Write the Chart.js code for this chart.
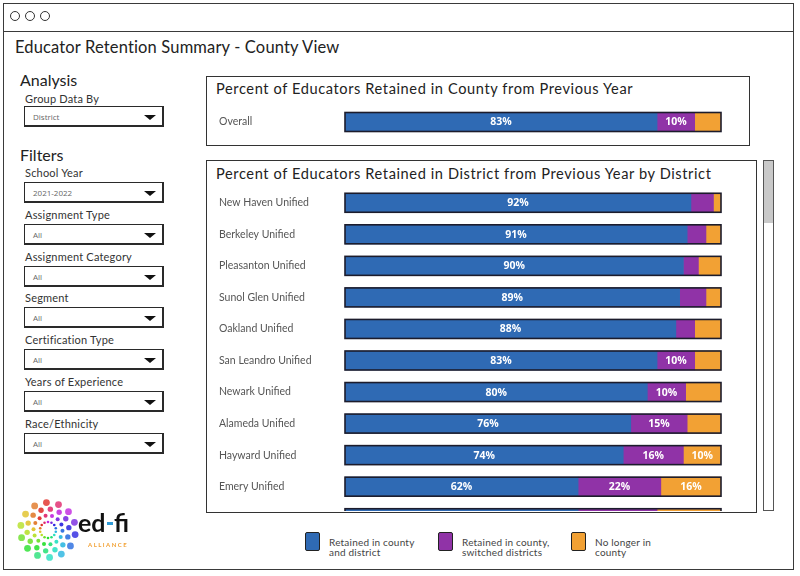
<!DOCTYPE html>
<html>
<head>
<meta charset="utf-8">
<script src="https://cdn.jsdelivr.net/npm/chart.js@4"></script>
<style>
body { margin: 0; width: 800px; height: 576px; overflow: hidden; background: #fff; position: relative; font-family: Lato, "Open Sans", sans-serif; color: #222; }
.abs { position: absolute; }
.frame { left: 3px; top: 3px; width: 789px; height: 565px; border: 1.5px solid #3a3a3a; }
.titlebar { left: 3px; top: 31px; width: 791px; height: 0; border-top: 1.5px solid #3a3a3a; }
.dot { width: 8px; height: 8px; border: 1.5px solid #333; border-radius: 50%; top: 11px; }
.txt { white-space: nowrap; }
.box { width: 137px; height: 18px; border: 1.5px solid #2a2a2a; border-right-width: 2px; border-bottom-width: 2px; }
.box span { position: absolute; left: 8px; top: 4px; font-size: 8px; color: #666; font-family: "Open Sans", sans-serif; }
.box i { position: absolute; right: 6px; top: 8px; width: 0; height: 0; border-left: 6px solid transparent; border-right: 6px solid transparent; border-top: 5px solid #111; }
.panel { border: 1.5px solid #333; }
.ptitle { font-size: 14.6px; color: #222; letter-spacing: 0.6px; }
.sw { width: 13px; height: 17px; border: 1.5px solid #222; border-radius: 2px; }
.leg { font-size: 10px; line-height: 10px; color: #444; letter-spacing: 0.2px; }
</style>
</head>
<body>
<div class="abs frame"></div>
<div class="abs titlebar"></div>
<div class="abs dot" style="left:10px"></div>
<div class="abs dot" style="left:25px"></div>
<div class="abs dot" style="left:40px"></div>

<div class="abs txt" style="left:15px;top:37px;font-size:16.5px;color:#222;letter-spacing:0.15px">Educator Retention Summary - County View</div>

<div class="abs txt" style="left:20px;top:70px;font-size:16px;color:#222">Analysis</div>
<div class="abs txt" style="left:25px;top:92px;font-size:11px;color:#333;letter-spacing:0.2px">Group Data By</div>
<div class="abs box" style="left:24px;top:106px"><span>District</span><i></i></div>

<div class="abs txt" style="left:20px;top:145px;font-size:16px;color:#222">Filters</div>
<div id="filters"></div>

<!-- county panel -->
<div class="abs panel" style="left:206px;top:76px;width:542px;height:68px"></div>
<div class="abs txt ptitle" style="left:216px;top:80px">Percent of Educators Retained in County from Previous Year</div>
<canvas id="countyChart" class="abs" style="left:219px;top:107px" width="504" height="30"></canvas>

<!-- district panel -->
<div class="abs panel" style="left:206px;top:160px;width:549px;height:351px"></div>
<div class="abs txt ptitle" style="left:216px;top:165px">Percent of Educators Retained in District from Previous Year by District</div>
<div class="abs" style="left:208px;top:185px;width:547px;height:326px;overflow:hidden">
  <canvas id="districtChart" class="abs" style="left:11px;top:2px" width="504" height="347"></canvas>
</div>
<div class="abs" style="left:763px;top:160px;width:9px;height:349px;border:1px solid #555">
  <div class="abs" style="left:0;top:0;width:9px;height:62px;background:#c9c9c9"></div>
</div>

<!-- legend -->
<div id="legend"></div>

<canvas id="logo" class="abs" style="left:15px;top:498px" width="130" height="68"></canvas>

<script>
const filterNames = ['School Year', 'Assignment Type', 'Assignment Category', 'Segment', 'Certification Type', 'Years of Experience', 'Race/Ethnicity'];
const filterValues = ['2021-2022', 'All', 'All', 'All', 'All', 'All', 'All'];

const countyLabels = ['Overall'];
const countyRetained = [83];
const countySwitched = [10];
const countyLeft = [7];

const districts = ['New Haven Unified', 'Berkeley Unified', 'Pleasanton Unified', 'Sunol Glen Unified', 'Oakland Unified',
    'San Leandro Unified', 'Newark Unified', 'Alameda Unified', 'Hayward Unified', 'Emery Unified', ''];
const retained = [92, 91, 90, 89, 88, 83, 80.4, 76, 74, 62, 62];
const switched = [6, 5, 4, 7, 5, 10, 10.2, 15, 16, 22, 21];
const noLonger = [2, 4, 6, 4, 7, 7, 9.4, 9, 10, 16, 17];

const legendNames = [['Retained in county', 'and district'], ['Retained in county,', 'switched districts'], ['No longer in', 'county']];
const colors = ['#2f6ab4', '#9033a7', '#f2a134'];

// filter dropdowns
var fhtml = '';
filterNames.forEach(function (name, i) {
    var y = 173 + i * 41.8;
    fhtml += '<div class="abs txt" style="left:25px;top:' + (y - 7) + 'px;font-size:11px;color:#333;letter-spacing:0.2px">' + name + '</div>';
    fhtml += '<div class="abs box" style="left:24px;top:' + (y + 9) + 'px"><span>' + filterValues[i] + '</span><i></i></div>';
});
document.getElementById('filters').innerHTML = fhtml;

// legend
var lhtml = '';
var legX = [305, 438, 571];
legendNames.forEach(function (lines, i) {
    lhtml += '<div class="abs sw" style="left:' + legX[i] + 'px;top:532px;background:' + colors[i] + '"></div>';
    lhtml += '<div class="abs txt leg" style="left:' + (legX[i] + 24) + 'px;top:537px">' + lines[0] + '<br>' + lines[1] + '</div>';
});
document.getElementById('legend').innerHTML = lhtml;

// labels inside segments + outline around each stacked bar
const barDecor = {
    id: 'barDecor',
    afterDatasetsDraw(chart) {
        const ctx = chart.ctx;
        const metas = chart.data.datasets.map((d, i) => chart.getDatasetMeta(i));
        ctx.save();
        ctx.font = 'bold 10.5px "Open Sans", sans-serif';
        ctx.fillStyle = '#fff';
        ctx.textAlign = 'center';
        ctx.textBaseline = 'middle';
        metas.forEach(function (meta, di) {
            meta.data.forEach(function (el, i) {
                var v = chart.data.datasets[di].data[i];
                if (v >= 9.5) ctx.fillText(Math.round(v) + '%', (el.x + el.base) / 2, el.y + 0.5);
            });
        });
        ctx.strokeStyle = '#1c1c2c';
        ctx.lineWidth = 1.6;
        metas[0].data.forEach(function (el, i) {
            var left = el.base;
            var right = metas[metas.length - 1].data[i].x;
            ctx.strokeRect(left, el.y - el.height / 2, right - left, el.height);
        });
        ctx.restore();
    }
};

function stackedBar(id, labels, a, b, c) {
    return new Chart(document.getElementById(id), {
        type: 'bar',
        data: {
            labels: labels,
            datasets: [
                { data: a, backgroundColor: colors[0], barThickness: 19 },
                { data: b, backgroundColor: colors[1], barThickness: 19 },
                { data: c, backgroundColor: colors[2], barThickness: 19 }
            ]
        },
        options: {
            indexAxis: 'y',
            responsive: false,
            animation: false,
            layout: { padding: { top: 0, bottom: 0, left: 0, right: 2 } },
            plugins: { legend: { display: false }, tooltip: { enabled: false } },
            scales: {
                x: { stacked: true, min: 0, max: 100, display: false },
                y: {
                    stacked: true,
                    grid: { display: false },
                    border: { display: false },
                    ticks: { crossAlign: 'far', padding: 0, color: '#555', font: { family: 'Lato', size: 10.5 } },
                    afterFit: function (scale) {
                        scale.width = 126;
                        scale.paddingTop = 0;
                        scale.paddingBottom = 0;
                    }
                }
            }
        },
        plugins: [barDecor]
    });
}

stackedBar('countyChart', countyLabels, countyRetained, countySwitched, countyLeft);
stackedBar('districtChart', districts, retained, switched, noLonger);

// ed-fi logo
(function () {
    var ctx = document.getElementById('logo').getContext('2d');
    var cx = 33, cy = 32;
    for (var a = 0; a < 14; a++) {
        var ang = -Math.PI / 2 + a * (Math.PI * 2 / 14);
        var hue = (290 - a * 24 + 360) % 360;
        for (var r = 0; r < 4; r++) {
            var rad = 8 + r * 6.5;
            var twist = ang + r * 0.28;
            ctx.beginPath();
            ctx.fillStyle = 'hsl(' + hue + ',75%,' + (52 + r * 3) + '%)';
            ctx.arc(cx + Math.cos(twist) * rad, cy + Math.sin(twist) * rad, 1.3 + r * 0.7, 0, Math.PI * 2);
            ctx.fill();
        }
    }
    ctx.fillStyle = '#111';
    ctx.font = 'bold 25px Lato, sans-serif';
    ctx.textBaseline = 'alphabetic';
    ctx.fillText('ed', 63, 34);
    ctx.fillStyle = '#2f9ad6';
    ctx.fillRect(92, 24, 6, 3);
    ctx.fillStyle = '#111';
    ctx.fillText('fi', 99, 34);
    ctx.fillStyle = '#f2a134';
    ctx.font = 'bold 6px Lato, sans-serif';
    ctx.fillText('A L L I A N C E', 73, 49);
})();
</script>
</body>
</html>
